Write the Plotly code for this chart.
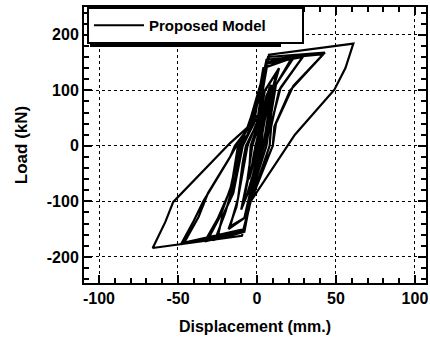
import plotly.graph_objects as go

# Hysteresis path (displacement mm, load kN)
disp = [0, 3, 5, 2, 1, -3, -5, -2, -1,
        2, 4, 1, -4, -2,
        1, 6, 9, 5, 2, -5, -10, -6, -3,
        3, 8, 4, 3, -6, -9, -5, -4,
        2, 5, 14, 9, 4, -4, -8, -18, -13, -9, -6,
        1, 3, 13, 8, 5, -3, -8, -17, -12, -9, -7,
        0, 3, 6, 24, 12, 8, 6, -3, -8, -28, -25, -22, -15, -9,
        -2, 4, 22, 11, 7, 6, -4, -8, -26, -20, -14, -10,
        -4, 2, 6, 30, 15, 9, 8, -4, -9, -33, -25, -17, -11,
        -5, 2, 6, 29, 14, 9, 8, -4, -8, -31, -23, -16, -12,
        -6, 3, 7, 43, 23, 12, 10, -5, -8, -48, -40, -34, -18, -13,
        -7, 2, 6, 42, 21, 11, 10, -4, -8, -46, -37, -31, -17, -14,
        -6, 0.6, 7.6, 61, 56, 49, 24, -4, -9.5, -66, -58, -53, -17, 0.6, 4]
load = [0, 40, 60, 20, 0, -40, -60, -20, 0,
        30, 55, 5, -50, -15,
        25, 90, 110, 50, 0, -80, -115, -60, 0,
        55, 105, 45, 0, -85, -108, -50, 0,
        50, 100, 140, 90, 0, -80, -130, -150, -110, -50, 0,
        50, 90, 135, 85, 5, -70, -130, -145, -95, -30, 0,
        40, 100, 150, 162, 110, 40, 0, -80, -155, -170, -166, -128, -85, 0,
        40, 140, 158, 105, 35, 0, -90, -150, -165, -120, -60, 0,
        30, 100, 150, 164, 105, 40, 0, -100, -155, -172, -132, -80, 0,
        40, 110, 148, 160, 100, 35, 0, -100, -150, -168, -125, -70, 0,
        20, 100, 160, 168, 108, 40, 0, -100, -155, -177, -135, -100, -25, 0,
        25, 100, 155, 165, 100, 35, 0, -100, -150, -174, -128, -85, -20, 0,
        30, 50, 164, 184, 140, 101, 20, -100, -162, -184, -137, -101, 5, 50, 110]

x_ticks = [-100, -50, 0, 50, 100]
y_ticks = [-200, -100, 0, 100, 200]

FONT = "Liberation Sans, Arial, Helvetica, sans-serif"

fig = go.Figure()
fig.add_trace(go.Scatter(x=disp, y=load, mode="lines", name="Proposed Model",
                         line=dict(color="black", width=2.2)))

axis_common = dict(
    showline=True, linecolor="black", linewidth=2, mirror="allticks",
    ticks="inside", ticklen=8, tickwidth=1.5, tickcolor="black",
    showgrid=True, gridcolor="black", griddash="dot", gridwidth=1,
    zeroline=False, automargin=False,
    tickfont=dict(family=FONT, size=16, color="black", weight="bold"),
)

fig.update_xaxes(**axis_common, range=[-109.5, 107], tickvals=x_ticks,
                 ticktext=[str(v) for v in x_ticks],
                 minor=dict(dtick=10, ticks="inside", ticklen=5, tickcolor="black", showgrid=False),
                 title=dict(text="Displacement (mm.)",
                            font=dict(family=FONT, size=16, color="black", weight="bold")))
fig.update_yaxes(**axis_common, range=[-247, 250], tickvals=y_ticks,
                 ticktext=[str(v) for v in y_ticks],
                 minor=dict(dtick=20, ticks="inside", ticklen=5, tickcolor="black", showgrid=False),
                 title=dict(text="Load (kN)",
                            font=dict(family=FONT, size=17, color="black", weight="bold")))

# drop shadow behind the legend box (legend itself is drawn on top)
fig.add_shape(type="rect", xref="paper", yref="paper",
              x0=(90 - 84) / 342, x1=(281 - 84) / 342,
              y0=(283 - 47) / 276, y1=(283 - 10) / 276,
              fillcolor="black", line=dict(width=0), layer="above")

fig.update_layout(
    width=430, height=345,
    margin=dict(l=84, r=4, t=7, b=62, autoexpand=False),
    paper_bgcolor="white", plot_bgcolor="white",
    showlegend=True,
    legend=dict(x=(87 - 84) / 342, y=1.0, xanchor="left", yanchor="top",
                orientation="h", entrywidth=148, entrywidthmode="pixels",
                itemwidth=50,
                bgcolor="white", bordercolor="black", borderwidth=2,
                font=dict(family=FONT, size=15, color="black", weight="bold")),
)

fig.write_html("out.html", post_script="document.body.style.margin='0';",
               config={"displayModeBar": False})
